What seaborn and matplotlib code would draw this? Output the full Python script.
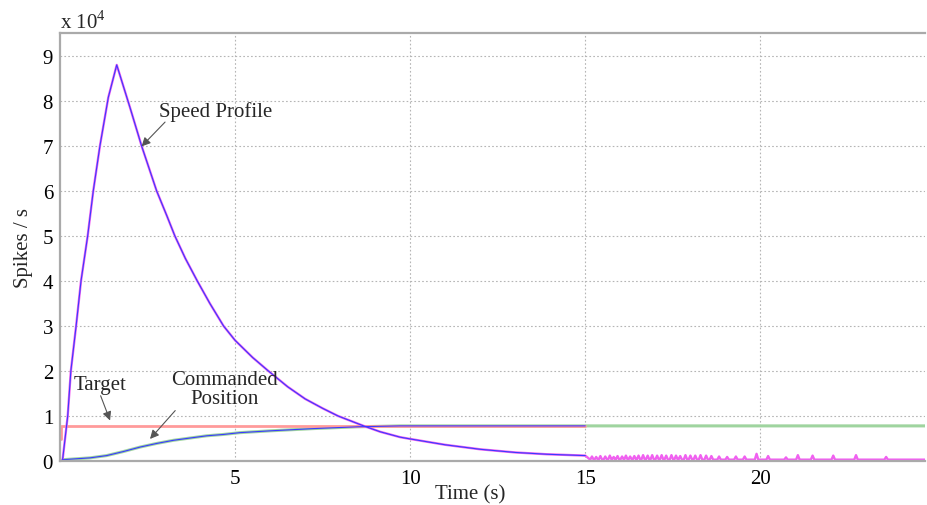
import matplotlib
matplotlib.use("Agg")
import matplotlib.pyplot as plt
import seaborn as sns

# ---- data (values in units of 1e4 spikes/s) ----
speed_t = [0.0, 0.07, 0.22, 0.31, 0.46, 0.60, 0.79, 0.95, 1.14, 1.38, 1.62, 2.0, 2.33, 2.76,
           3.05, 3.28, 3.58, 3.92, 4.28, 4.67, 5.0, 5.5, 5.95, 6.5, 7.0, 7.5, 7.94, 8.67, 9.14,
           9.71, 10.0, 11.0, 12.0, 13.0, 13.9, 15.0]
speed_v = [0.0, 0.0, 1.0, 2.0, 3.0, 4.0, 5.0, 6.0, 7.0, 8.08, 8.8, 7.85, 7.0, 6.0,
           5.45, 5.0, 4.5, 4.0, 3.5, 3.0, 2.68, 2.3, 2.0, 1.65, 1.38, 1.17, 1.0, 0.78, 0.65,
           0.53, 0.49, 0.36, 0.26, 0.19, 0.15, 0.12]

spike_t = [15.19, 15.31, 15.43, 15.57, 15.70, 15.81, 15.92, 16.05, 16.16, 16.28, 16.40, 16.52,
           16.65, 16.78, 16.91, 17.05, 17.18, 17.31, 17.46, 17.59, 17.71, 17.86, 18.00, 18.14,
           18.29, 18.45, 18.60, 18.82, 19.05, 19.30, 19.55, 19.89, 20.22, 20.73, 21.07, 21.49,
           22.08, 22.73, 23.59]
spike_h = [0.10, 0.09, 0.11, 0.10, 0.12, 0.09, 0.11, 0.10, 0.12, 0.10, 0.11, 0.12,
           0.13, 0.12, 0.13, 0.12, 0.13, 0.12, 0.13, 0.12, 0.11, 0.13, 0.12, 0.12,
           0.13, 0.12, 0.11, 0.10, 0.09, 0.10, 0.10, 0.16, 0.11, 0.08, 0.13, 0.12,
           0.12, 0.13, 0.09]
tail_base = 0.03
t_end = 24.7

pos_t = [0.0, 0.1, 0.86, 1.33, 1.81, 2.29, 2.76, 3.24, 3.71, 4.19, 4.67, 5.14, 6.0, 7.24,
         8.5, 9.71, 11.0, 13.0, 15.0]
pos_v = [0.0, 0.03, 0.07, 0.12, 0.21, 0.31, 0.39, 0.46, 0.51, 0.56, 0.59, 0.63, 0.67, 0.72,
         0.76, 0.78, 0.78, 0.78, 0.78]

target_t = [0.03, 0.03, 15.0]
target_v = [0.48, 0.78, 0.78]

xticks = [5, 10, 15, 20]
yticks = [0, 1, 2, 3, 4, 5, 6, 7, 8, 9]

# ---- style ----
sns.set_theme(style="white")
plt.rcParams["font.family"] = ["Liberation Serif", "DejaVu Serif"]
plt.rcParams["mathtext.fontset"] = "custom"
plt.rcParams["mathtext.rm"] = "Liberation Serif"

fig = plt.figure(figsize=(9.27, 5.06), dpi=100)
ax = fig.add_axes([60 / 927, 44 / 506, 865 / 927, 428.5 / 506])

# magenta trace: main curve + spike tail
mag_t = list(speed_t)
mag_v = list(speed_v)
for s, h in zip(spike_t, spike_h):
    mag_t += [s - 0.05, s, s + 0.05]
    mag_v += [tail_base, h, tail_base]
mag_t.append(t_end)
mag_v.append(tail_base)

green_t = pos_t + [t_end]
green_v = pos_v + [pos_v[-1]]

kw = dict(ax=ax, estimator=None, sort=False, legend=False)
sns.lineplot(x=green_t, y=green_v, color="#9fd49f", lw=2.2, **kw)
sns.lineplot(x=target_t, y=target_v, color="#ff9a9a", lw=2.0, **kw)
sns.lineplot(x=mag_t, y=mag_v, color="#f060f0", lw=1.7, **kw)
sns.lineplot(x=speed_t, y=speed_v, color="#3a3aff", lw=0.8, **kw)
sns.lineplot(x=pos_t, y=pos_v, color="#3a3aff", lw=0.8, **kw)

ax.set_xlim(0, t_end)
ax.set_ylim(0, 9.52)
ax.set_xticks(xticks)
ax.set_yticks(yticks)
ax.set_xticklabels([str(v) for v in xticks])
ax.set_yticklabels([str(v) for v in yticks])
ax.grid(True, linestyle=(0, (1.5, 2)), color="#b5b5b5", lw=0.8)
ax.tick_params(axis="both", direction="in", length=7, width=1.0, color="#333333",
               labelsize=15, labelcolor="black")
ax.tick_params(axis="x", pad=6)
ax.tick_params(axis="y", pad=5)

for side in ["left", "bottom", "top"]:
    ax.spines[side].set_color("#aaaaaa")
    ax.spines[side].set_linewidth(1.6)
ax.spines["right"].set_visible(False)

ax.set_xlabel("Time (s)", fontsize=15)
ax.xaxis.set_label_coords((470 - 60) / 865, -0.055)
ax.set_ylabel("Spikes / s", fontsize=15, labelpad=7)

fig.text(60 / 927, 1 - 29 / 506, r"x 10$^{4}$", fontsize=15, ha="left", va="baseline")

arrow = dict(arrowstyle="-|>", color="#555555", lw=0.8, mutation_scale=13,
             shrinkA=0, shrinkB=0)
ax.text(4.43, 7.78, "Speed Profile", fontsize=15, ha="center", va="center")
ax.annotate("", xy=(2.33, 6.99), xytext=(3.0, 7.53), arrowprops=arrow)
ax.text(1.14, 1.71, "Target", fontsize=15, ha="center", va="center")
ax.annotate("", xy=(1.43, 0.9), xytext=(1.16, 1.45), arrowprops=arrow)
ax.text(4.69, 1.6, "Commanded\nPosition", fontsize=15, ha="center", va="center",
        linespacing=1.0)
ax.annotate("", xy=(2.57, 0.49), xytext=(3.29, 1.12), arrowprops=arrow)

fig.savefig("out.png", dpi=100)
